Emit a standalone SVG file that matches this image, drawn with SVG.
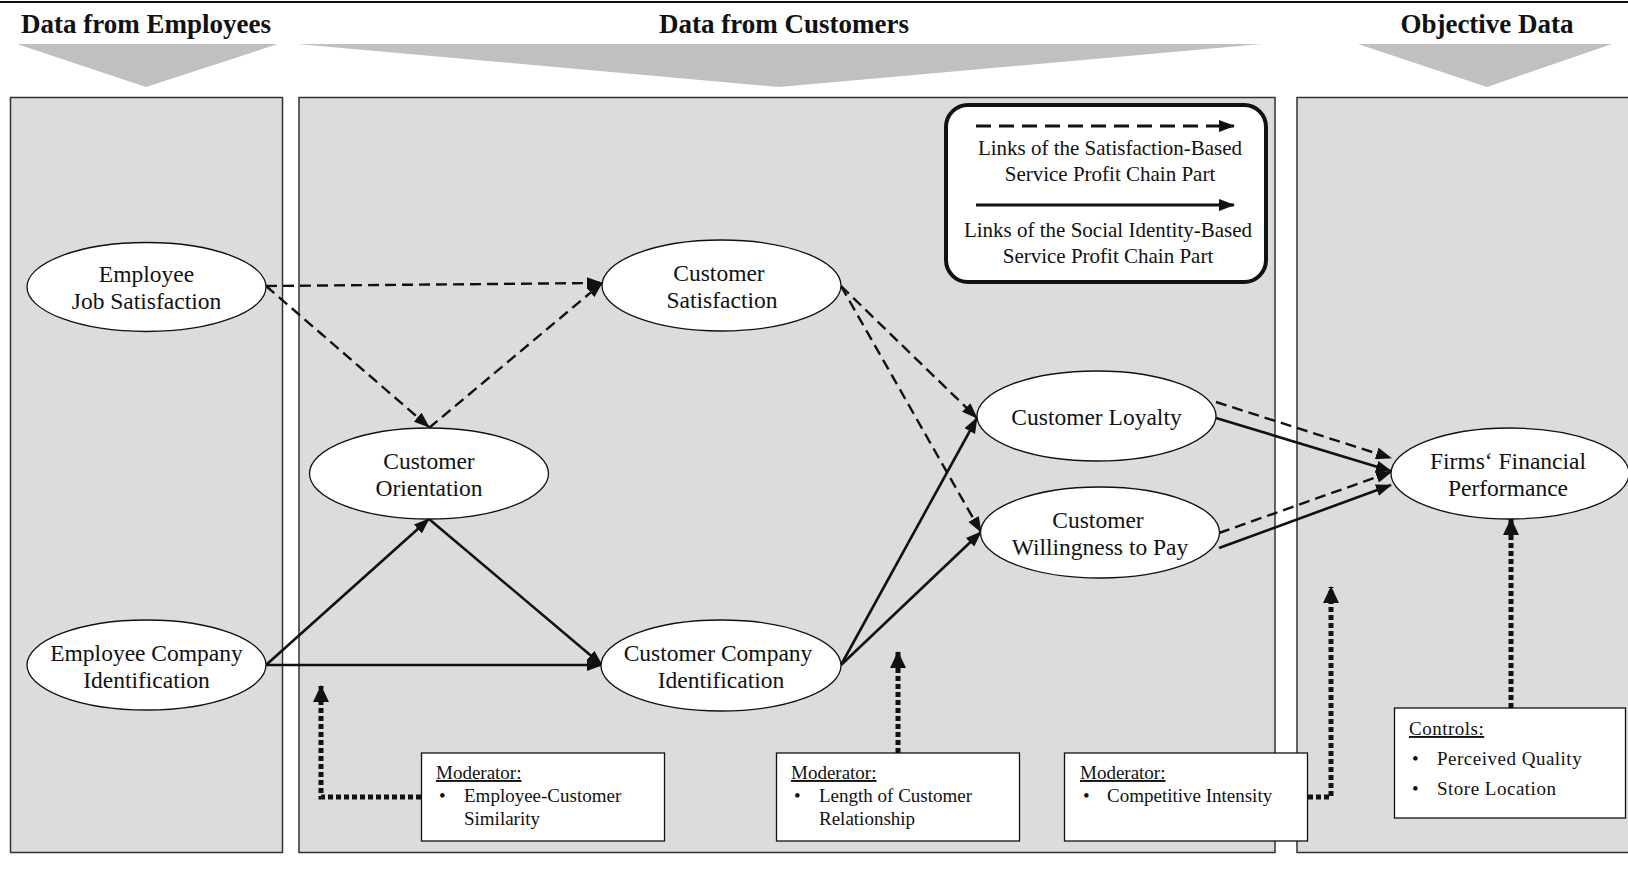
<svg xmlns="http://www.w3.org/2000/svg" width="1628" height="893" viewBox="0 0 1628 893">
<style>
text{font-family:"Liberation Serif","Times New Roman",serif;fill:#111}
.hdr{font-size:27px;font-weight:bold;text-anchor:middle}
.nt{font-size:23.5px;text-anchor:middle}
.lg{font-size:21px;text-anchor:middle}
.md{font-size:19px}
.panel{fill:#dcdcdc;stroke:#333;stroke-width:1.5}
.chev{fill:#c0c0c0}
.ell{fill:#fff;stroke:#111;stroke-width:1.3}
.box{fill:#fff;stroke:#111;stroke-width:1.3}
.dash{fill:none;stroke:#111;stroke-width:2.4;stroke-dasharray:11 6;marker-end:url(#ah)}
.solid{fill:none;stroke:#111;stroke-width:2.6;marker-end:url(#ah)}
.dot{fill:none;stroke:#111;stroke-width:5;stroke-dasharray:5 3;marker-end:url(#ahd)}
</style>
<defs>
<marker id="ah" markerUnits="userSpaceOnUse" markerWidth="16" markerHeight="12" refX="15" refY="6" orient="auto"><path d="M0,0 L16,6 L0,12 z" fill="#111"/></marker>
<marker id="ahd" markerUnits="userSpaceOnUse" markerWidth="18" markerHeight="16" refX="16" refY="8" orient="auto"><path d="M0,0 L17,8 L0,16 z" fill="#111"/></marker>
</defs>
<rect width="1628" height="893" fill="#fff"/>
<line x1="0" y1="2" x2="1628" y2="2" stroke="#111" stroke-width="2"/>

<g id="headers">
<text class="hdr" x="146" y="33">Data from Employees</text>
<text class="hdr" x="784" y="33">Data from Customers</text>
<text class="hdr" x="1487" y="33">Objective Data</text>
<polygon class="chev" points="17,44 278,44 146,87"/>
<polygon class="chev" points="297,44 1262,44 779,87"/>
<polygon class="chev" points="1358,44 1612,44 1487,87"/>
</g>

<g id="panels">
<rect class="panel" x="10.5" y="97.5" width="272" height="755"/>
<rect class="panel" x="299" y="97.5" width="976" height="755"/>
<rect class="panel" x="1297" y="97.5" width="340" height="755"/>
</g>

<g id="legend">
<rect x="946" y="105" width="320" height="177" rx="22" fill="#fff" stroke="#111" stroke-width="4"/>
<line x1="976" y1="126" x2="1234" y2="126" stroke="#111" stroke-width="3.2" stroke-dasharray="15 8" marker-end="url(#ah)"/>
<text class="lg" x="1110" y="155">Links of the Satisfaction-Based</text>
<text class="lg" x="1110" y="181">Service Profit Chain Part</text>
<line x1="976" y1="205" x2="1234" y2="205" stroke="#111" stroke-width="3.2" marker-end="url(#ah)"/>
<text class="lg" x="1108" y="237">Links of the Social Identity-Based</text>
<text class="lg" x="1108" y="263">Service Profit Chain Part</text>
</g>

<g id="connectors">
<line class="dash" x1="266" y1="286" x2="602" y2="283"/>
<line class="dash" x1="266" y1="286" x2="429" y2="427"/>
<line class="dash" x1="429" y1="428" x2="602" y2="283"/>
<line class="dash" x1="841" y1="286" x2="977" y2="418"/>
<line class="dash" x1="841" y1="286" x2="981" y2="532"/>
<line class="dash" x1="1216" y1="402" x2="1391" y2="458"/>
<line class="dash" x1="1219" y1="533" x2="1391" y2="472"/>
<line class="solid" x1="266" y1="665" x2="429" y2="519"/>
<line class="solid" x1="266" y1="665" x2="602" y2="665"/>
<line class="solid" x1="429" y1="519" x2="602" y2="665"/>
<line class="solid" x1="841" y1="665" x2="977" y2="418"/>
<line class="solid" x1="841" y1="665" x2="981" y2="532"/>
<line class="solid" x1="1216" y1="418" x2="1391" y2="471"/>
<line class="solid" x1="1219" y1="548" x2="1391" y2="485"/>
<polyline class="dot" points="421,797 321,797 321,686"/>
<line class="dot" x1="898" y1="753" x2="898" y2="652"/>
<polyline class="dot" points="1308,797 1331,797 1331,587"/>
<line class="dot" x1="1511" y1="708" x2="1511" y2="519"/>
</g>

<g id="n-ejs">
<ellipse class="ell" cx="146.5" cy="287" rx="119.5" ry="44.5"/>
<text class="nt" x="146.5" y="282">Employee</text>
<text class="nt" x="146.5" y="309">Job Satisfaction</text>
</g>
<g id="n-eci">
<ellipse class="ell" cx="146.5" cy="665" rx="119.5" ry="45"/>
<text class="nt" x="146.5" y="661">Employee Company</text>
<text class="nt" x="146.5" y="688">Identification</text>
</g>
<g id="n-co">
<ellipse class="ell" cx="429" cy="473.5" rx="119.5" ry="45.5"/>
<text class="nt" x="429" y="469">Customer</text>
<text class="nt" x="429" y="496">Orientation</text>
</g>
<g id="n-cs">
<ellipse class="ell" cx="721.5" cy="285.5" rx="119.5" ry="45.5"/>
<text class="nt" x="719" y="281">Customer</text>
<text class="nt" x="722" y="308">Satisfaction</text>
</g>
<g id="n-cci">
<ellipse class="ell" cx="721" cy="665.5" rx="120" ry="45.5"/>
<text class="nt" x="718" y="661">Customer Company</text>
<text class="nt" x="721" y="688">Identification</text>
</g>
<g id="n-cl">
<ellipse class="ell" cx="1096.5" cy="416" rx="119.5" ry="45"/>
<text class="nt" x="1096.5" y="425">Customer Loyalty</text>
</g>
<g id="n-cwp">
<ellipse class="ell" cx="1100" cy="532.5" rx="119.5" ry="45.5"/>
<text class="nt" x="1098" y="528">Customer</text>
<text class="nt" x="1100" y="555">Willingness to Pay</text>
</g>
<g id="n-ffp">
<ellipse class="ell" cx="1510" cy="473.5" rx="119" ry="45.5"/>
<text class="nt" x="1508" y="469">Firms‘ Financial</text>
<text class="nt" x="1508" y="496">Performance</text>
</g>

<g id="m-similarity">
<rect class="box" x="421.5" y="753" width="243" height="88"/>
<text class="md" x="436" y="779" text-decoration="underline">Moderator:</text>
<text class="md" x="439" y="802">•</text>
<text class="md" x="464" y="802">Employee-Customer</text>
<text class="md" x="464" y="825">Similarity</text>
</g>
<g id="m-length">
<rect class="box" x="776.5" y="753" width="243" height="88"/>
<text class="md" x="791" y="779" text-decoration="underline">Moderator:</text>
<text class="md" x="794" y="802">•</text>
<text class="md" x="819" y="802">Length of Customer</text>
<text class="md" x="819" y="825">Relationship</text>
</g>
<g id="m-intensity">
<rect class="box" x="1064.5" y="753" width="243" height="88"/>
<text class="md" x="1080" y="779" text-decoration="underline">Moderator:</text>
<text class="md" x="1083" y="802">•</text>
<text class="md" x="1107" y="802">Competitive Intensity</text>
</g>
<g id="controls">
<rect class="box" x="1394.5" y="708" width="231" height="110"/>
<text class="md" x="1409" y="735" text-decoration="underline" letter-spacing="0.5">Controls:</text>
<text class="md" x="1412" y="765">•</text>
<text class="md" x="1437" y="765" letter-spacing="0.5">Perceived Quality</text>
<text class="md" x="1412" y="795">•</text>
<text class="md" x="1437" y="795" letter-spacing="0.5">Store Location</text>
</g>
</svg>
